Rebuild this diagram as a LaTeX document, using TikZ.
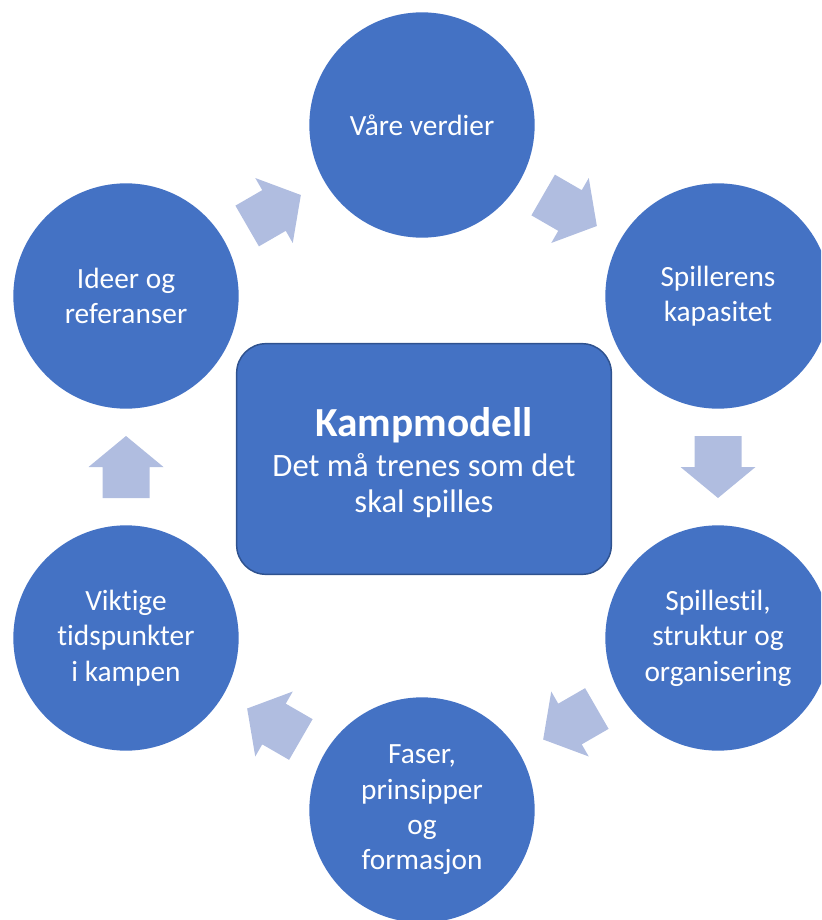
\documentclass[tikz,border=0pt]{standalone}
\usepackage{fontspec}
\setmainfont{Carlito}[Ligatures=NoCommon]
\usetikzlibrary{calc}

\definecolor{discblue}{RGB}{68,114,196}
\definecolor{hubedge}{RGB}{47,82,143}
\definecolor{flowblue}{RGB}{176,189,224}

\tikzset{every picture/.style={line width=0.75pt}}
\tikzset{
  disc/.style={circle, fill=discblue, minimum size=169pt, inner sep=0pt,
    text=white, align=center, font=\fontsize{22}{26.5}\selectfont},
  hub/.style={rectangle, rounded corners=22pt, fill=discblue, draw=hubedge,
    line width=1.1pt, minimum width=281pt, minimum height=173pt,
    text=white, align=center, font=\fontsize{24.5}{27}\selectfont},
  flowarrow/.pic={
    \fill[flowblue] (-31,-23.5) -- (0,-23.5) -- (0,-37.5) -- (31,0)
      -- (0,37.5) -- (0,23.5) -- (-31,23.5) -- cycle;
  }
}

\begin{document}
\begin{tikzpicture}[x=0.75pt,y=0.75pt,yscale=-1,xscale=1]
\useasboundingbox (0,0) rectangle (821,920);
\clip (0,0) rectangle (821,920);

%Shape: Circles round the hub
\node[disc] (verdier) at (422,125) {Våre verdier};
\node[disc] (kapasitet) at (718,296) {Spillerens\\kapasitet};
\node[disc] (spillestil) at (718,638) {Spillestil,\\struktur og\\organisering};
\node[disc] (faser) at (422,810) {Faser,\\prinsipper\\og\\formasjon};
\node[disc] (tidspunkt) at (126,638) {Viktige\\tidspunkter\\i kampen};
\node[disc] (ideer) at (126,296) {Ideer og\\referanser};

%Rounded Rect
\node[hub] (kampmodell) at (424,459) {};
% Text Node
\node[text=white, align=center, font=\fontsize{24.5}{27}\selectfont] (kamptekst) at (424,463)
  {{\bfseries\fontsize{31}{36}\selectfont Kampmodell}\\[3pt]Det må trenes som det\\skal spilles};

% Block arrows, clockwise
\pic[rotate=-30] at ($(verdier)!0.5!(kapasitet)$) {flowarrow};
\pic[rotate=-90] at ($(kapasitet)!0.5!(spillestil)$) {flowarrow};
\pic[rotate=-150] at ($(spillestil)!0.5!(faser)$) {flowarrow};
\pic[rotate=-210] at ($(faser)!0.5!(tidspunkt)$) {flowarrow};
\pic[rotate=-270] at ($(tidspunkt)!0.5!(ideer)$) {flowarrow};
\pic[rotate=-330] at ($(ideer)!0.5!(verdier)$) {flowarrow};

\end{tikzpicture}
\end{document}
